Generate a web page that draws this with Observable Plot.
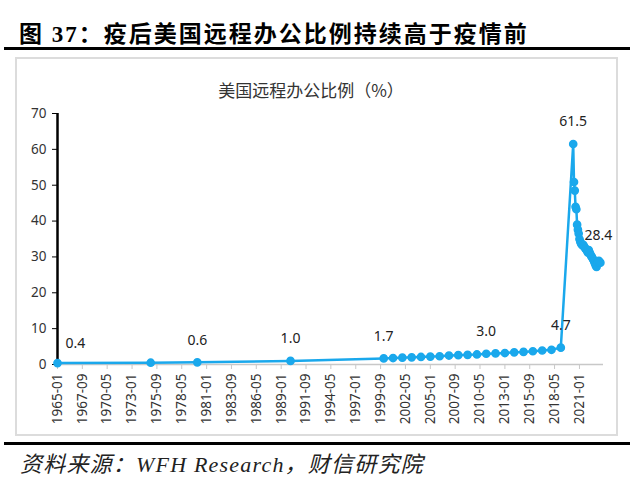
<!DOCTYPE html>
<html><head><meta charset="utf-8">
<script src="https://cdn.jsdelivr.net/npm/d3@7"></script>
<script src="https://cdn.jsdelivr.net/npm/@observablehq/plot@0.6"></script>
<style>
body{margin:0;width:640px;height:477px;position:relative;background:#fff;overflow:hidden;font-family:"Noto Sans","Noto Sans CJK SC",sans-serif}
#title{position:absolute;left:19px;top:15px;font:bold 23px "Liberation Serif","Noto Sans CJK SC",serif;color:#000;white-space:nowrap;letter-spacing:2px}
.rule{position:absolute;left:4px;width:626px;height:3px;background:#000}
#box{position:absolute;left:15px;top:57px;width:603px;height:379px;border:2px solid #dcdcdc;box-sizing:border-box}
#ctitle{position:absolute;left:0;width:622px;top:77px;text-align:center;font:17px "Noto Sans CJK SC",sans-serif;color:#333}
#chart{position:absolute;left:16px;top:100px}
#caption{position:absolute;left:20px;top:446px;font:italic 22px "Liberation Serif","Noto Sans CJK SC",serif;color:#222;white-space:nowrap;letter-spacing:1.2px}
</style></head>
<body>
<div id="title">图 37：疫后美国远程办公比例持续高于疫情前</div>
<div class="rule" style="top:47px"></div>
<div id="box"></div>
<div id="ctitle">美国远程办公比例（%）</div>
<div id="chart"></div>
<div class="rule" style="top:442px"></div>
<div id="caption">资料来源：WFH Research，财信研究院</div>
<script>
// early sparse observations
const earlyDates = ["1965-01","1975-01","1980-01","1990-01"];
const earlyValues = [0.4, 0.5, 0.6, 1.0];
// annual 2000-2019
const annualDates = ["2000-01","2001-01","2002-01","2003-01","2004-01","2005-01","2006-01","2007-01","2008-01","2009-01","2010-01","2011-01","2012-01","2013-01","2014-01","2015-01","2016-01","2017-01","2018-01","2019-01"];
const annualValues = [1.7,1.8,1.9,2.0,2.1,2.2,2.3,2.5,2.6,2.7,2.8,3.0,3.1,3.2,3.4,3.5,3.7,3.9,4.1,4.7];
// monthly WFH Research 2020-05 onward
const monthlyDates = ["2020-05","2020-06","2020-07","2020-08","2020-09","2020-10","2020-11","2020-12","2021-01","2021-02","2021-03","2021-04","2021-05","2021-06","2021-07","2021-08","2021-09","2021-10","2021-11","2021-12","2022-01","2022-02","2022-03","2022-04","2022-05","2022-06","2022-07","2022-08","2022-09","2022-10","2022-11","2022-12","2023-01","2023-02","2023-03","2023-04"];
const monthlyValues = [61.5,50.9,48.5,44.0,43.3,39.0,37.6,36.5,35.0,34.3,33.8,33.5,33.2,33.4,32.9,32.6,32.2,32.0,31.6,31.2,31.9,31.3,30.8,30.3,30.0,29.6,29.2,28.7,28.2,27.6,27.2,27.9,28.6,28.9,28.5,28.4];
// labelled points
const labelDates = ["1980-01","1990-01","2000-01","2011-01","2019-01"];
const labelTexts = ["0.6","1.0","1.7","3.0","4.7"];
const xTickLabels = ["1965-01","1967-09","1970-05","1973-01","1975-09","1978-05","1981-01","1983-09","1986-05","1989-01","1991-09","1994-05","1997-01","1999-09","2002-05","2005-01","2007-09","2010-05","2013-01","2015-09","2018-05","2021-01"];
const yTicks = [0,10,20,30,40,50,60,70];

const parse = d3.utcParse("%Y-%m");
const data = [
  ...earlyDates.map((d,i)=>({date:parse(d), v:earlyValues[i]})),
  ...annualDates.map((d,i)=>({date:parse(d), v:annualValues[i]})),
  ...monthlyDates.map((d,i)=>({date:parse(d), v:monthlyValues[i]}))
];
const byDate = new Map(data.map(d=>[+d.date, d]));
const labels = labelDates.map((d,i)=>({date:parse(d), v:byDate.get(+parse(d)).v, t:labelTexts[i]}));
const first = data[0];
const peak = data.find(d=>d.v===61.5);
const last = data[data.length-1];
const xTicks = xTickLabels.map(parse);
const x0 = parse("1965-01"), x1 = parse("2023-08");
const blue = "#1aa8ec";

const chart = Plot.plot({
  width: 600, height: 330,
  marginLeft: 41, marginRight: 13, marginTop: 13, marginBottom: 66,
  style: {fontFamily: '"Noto Sans", sans-serif', fontSize: "12px", color: "#333", background: "transparent"},
  x: {type: "utc", domain: [x0, x1]},
  y: {domain: [0, 70]},
  marks: [
    Plot.ruleY([0], {x1: x0, x2: x1, stroke: "#c8c8c8", strokeWidth: 1.5}),
    Plot.axisX({ticks: xTicks, tickFormat: d3.utcFormat("%Y-%m"), tickRotate: -90, tickSize: 5, tickPadding: 4, stroke: "#c8c8c8", fill: "#333", fontSize: 13.5, label: null}),
    Plot.axisY({ticks: yTicks, tickSize: 5, tickPadding: 6, stroke: "#000", fill: "#333", fontSize: 13.5, label: null}),
    Plot.ruleX([x0], {y1: 0, y2: 70, stroke: "#000", strokeWidth: 2.5}),
    Plot.line(data, {x: "date", y: "v", stroke: blue, strokeWidth: 2.5}),
    Plot.dot(data, {x: "date", y: "v", r: 3.6, fill: blue, stroke: blue}),
    Plot.text(labels, {x: "date", y: "v", text: "t", dy: -22, fill: "#222", fontSize: 14}),
    Plot.text([first], {x: "date", y: "v", text: d=>d.v.toFixed(1), dx: 18, dy: -20, fill: "#222", fontSize: 14}),
    Plot.text([peak], {x: "date", y: "v", text: d=>d.v.toFixed(1), dy: -22, fill: "#222", fontSize: 14}),
    Plot.text([last], {x: "date", y: "v", text: d=>d.v.toFixed(1), dx: -2, dy: -27, fill: "#222", fontSize: 14})
  ]
});
document.getElementById("chart").appendChild(chart);
</script>
</body></html>
